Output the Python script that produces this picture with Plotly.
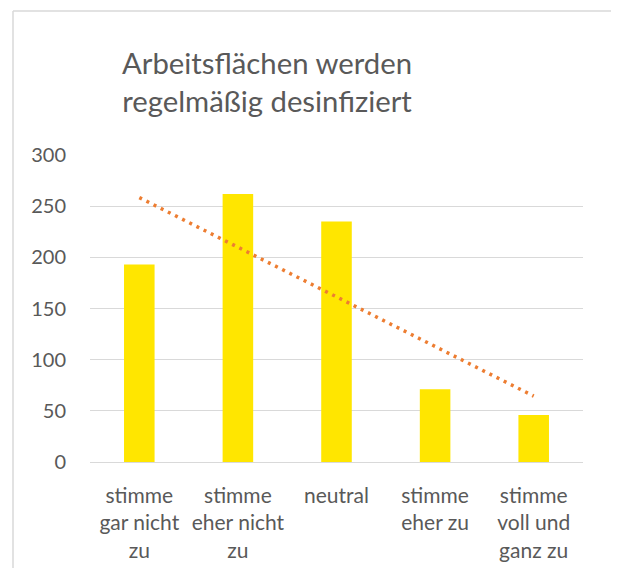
import numpy as np
import plotly.graph_objects as go

categories = ["stimme<br>gar nicht<br>zu", "stimme<br>eher nicht<br>zu", "neutral",
              "stimme<br>eher zu", "stimme<br>voll und<br>ganz zu"]
values = [193, 262, 235, 71, 46]
y_ticks = [0, 50, 100, 150, 200, 250, 300]

title_text = "Arbeitsflächen werden<br>regelmäßig desinfiziert"

# linear trendline (least squares over category index)
xi = np.arange(1, len(values) + 1)
slope, intercept = np.polyfit(xi, values, 1)
trend = slope * xi + intercept

FONT = "Lato"
GREY = "#595959"

# page has an 8px body margin: work in figure coordinates, avoid overflow
OFF = 8
W, H = 619 - 2 * OFF, 576 - 2 * OFF
L, T = 90 - OFF, 155 - OFF
R = W - (583 - OFF)
B = H - (462 - OFF)
pw, ph = W - L - R, H - T - B
bx = (13 - OFF - L) / pw
by = (H - B - (11 - OFF)) / ph

fig = go.Figure()
fig.add_trace(go.Bar(x=xi, y=values, marker=dict(color="#FFE600", line=dict(width=0)),
                     showlegend=False, hoverinfo="y"))
fig.add_trace(go.Scatter(x=xi, y=trend, mode="lines",
                         line=dict(color="#ED7D31", width=3.5, dash="3px,5px"),
                         showlegend=False, hoverinfo="skip"))

fig.update_layout(
    width=W, height=H,
    margin=dict(l=L, r=R, t=T, b=B, autoexpand=False),
    paper_bgcolor="white", plot_bgcolor="white",
    bargap=0.69,
    font=dict(family=FONT, color=GREY),
    title=dict(text=title_text, x=(267 - OFF) / W, xanchor="center",
               y=1 - 66 / H, yanchor="top",
               font=dict(size=29.3, family=FONT, color=GREY)),
    xaxis=dict(tickmode="array", tickvals=list(xi), ticktext=categories,
               range=[0.5, len(values) + 0.5], showgrid=False, zeroline=False,
               showline=False, ticks="", tickfont=dict(size=21, family=FONT, color=GREY),
               ticklabelstandoff=19, automargin=False),
    yaxis=dict(range=[0, 300], tickvals=y_ticks, showgrid=True, gridcolor="#D9D9D9",
               gridwidth=1.3, zeroline=True, zerolinecolor="#D9D9D9", zerolinewidth=1.3,
               showline=False, ticks="", tickfont=dict(size=20, family=FONT, color=GREY),
               ticklabelstandoff=23, automargin=False),
    shapes=[
        dict(type="line", xref="paper", yref="paper", x0=bx, x1=bx, y0=-1, y1=by,
             line=dict(color="#D9D9D9", width=1.5)),
        dict(type="line", xref="paper", yref="paper", x0=bx, x1=2, y0=by, y1=by,
             line=dict(color="#D9D9D9", width=1.5)),
    ],
)

fig.write_html(
    "out.html",
    config={"displayModeBar": False},
    post_script="document.documentElement.style.overflow='hidden';"
                "document.body.style.overflow='hidden';",
)
